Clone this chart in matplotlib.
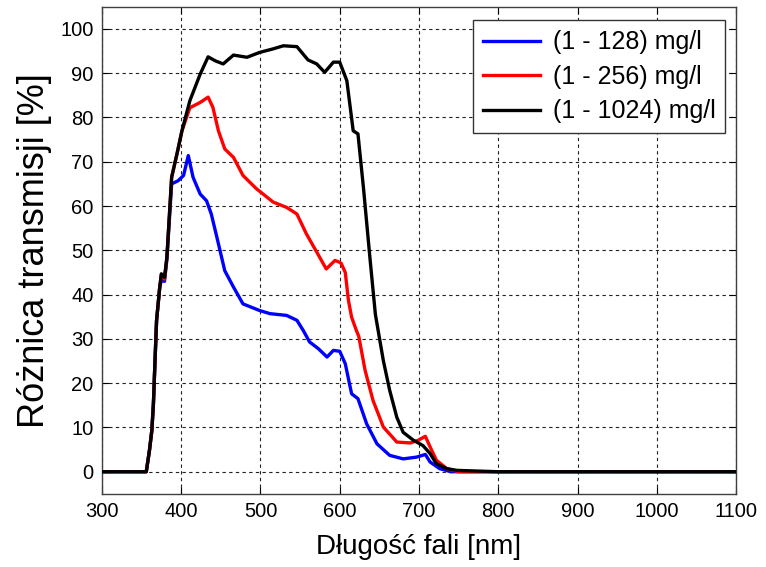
import matplotlib
matplotlib.use("Agg")
import matplotlib.pyplot as plt

# -------------------------------------------------------------------
# Data
# -------------------------------------------------------------------
wl_128 = [300, 356, 360, 363, 365, 367, 369, 373, 375, 379, 382, 388, 396,
          403, 409, 415, 424, 432, 438, 445, 455, 466, 478, 499, 512, 533,
          546, 554, 562, 573, 584, 592, 600, 607, 615, 623, 634, 647, 663,
          680, 697, 708, 714, 726, 740, 1100]
tr_128 = [0, 0, 4.8, 9.3, 15.3, 25, 34.2, 41.7, 43.2, 43, 48, 65, 65.7,
          66.9, 71.4, 66.5, 62.7, 61.2, 58.2, 53, 45.4, 41.7, 37.9, 36.4, 35.7, 35.3,
          34.2, 31.9, 29.3, 27.8, 25.9, 27.4, 27.2, 24.4, 17.6, 16.5, 10.8, 6.3, 3.7,
          2.9, 3.3, 3.9, 2.2, 0.7, 0, 0]

wl_256 = [300, 356, 360, 363, 365, 367, 369, 373, 375, 379, 382, 388, 395,
          401, 411, 424, 434, 440, 447, 455, 466, 478, 495, 516, 533, 546,
          558, 571, 583, 594, 600, 602, 607, 611, 615, 621, 624, 632, 642,
          655, 672, 689, 699, 708, 714, 722, 735, 750, 1100]
tr_256 = [0, 0, 4.8, 9.3, 15.3, 25, 34.2, 41.7, 44.5, 43.5, 48.4, 66.5, 72,
          77, 82.2, 83.4, 84.6, 82.3, 77, 72.9, 71, 66.9, 63.9, 60.9, 59.7, 58.2,
          53.7, 49.6, 45.8, 47.7, 47.3, 47, 45, 38.7, 34.9, 31.9, 30.6, 22.9, 16.1,
          10.1, 6.7, 6.5, 7.1, 8.0, 5.6, 2.6, 0.7, 0, 0]

wl_1024 = [300, 356, 360, 363, 365, 367, 369, 373, 375, 379, 382, 388, 395,
           401, 411, 424, 434, 443, 453, 466, 483, 499, 516, 529, 546, 560,
           571, 581, 592, 600, 609, 617, 623, 630, 638, 645, 655, 663, 672,
           680, 693, 705, 714, 722, 735, 748, 800, 1100]
tr_1024 = [0, 0, 4.8, 9.3, 15.3, 25, 34.2, 41.7, 44.7, 43.9, 48.4, 66.5, 72,
           77, 83.8, 89.8, 93.7, 92.8, 92.1, 94.1, 93.6, 94.7, 95.5, 96.2, 96, 93,
           92.1, 90.2, 92.5, 92.5, 88.3, 77, 76.3, 64, 48.5, 35.5, 25.1, 18.4, 12.3,
           8.9, 7.1, 5.9, 4.1, 1.8, 0.7, 0.3, 0, 0]

labels = ["(1 - 128) mg/l", "(1 - 256) mg/l", "(1 - 1024) mg/l"]
colors = ["#0000ff", "#ff0000", "#000000"]

x_ticks = list(range(300, 1101, 100))
y_ticks = list(range(0, 101, 10))

# -------------------------------------------------------------------
# Plot
# -------------------------------------------------------------------
plt.rcParams["font.family"] = ["Liberation Sans", "DejaVu Sans"]

fig = plt.figure(figsize=(7.66, 5.67), dpi=100)
ax = fig.add_axes([0.133, 0.129, 0.828, 0.859])

series = [(wl_128, tr_128), (wl_256, tr_256), (wl_1024, tr_1024)]
for (x, y), lab, col in zip(series, labels, colors):
    ax.plot(x, y, color=col, lw=2.4, label=lab, zorder=3)

ax.set_xlim(300, 1100)
ax.set_ylim(-5, 105)
ax.set_xticks(x_ticks)
ax.set_yticks(y_ticks)
ax.tick_params(direction="in", length=5, width=0.8, top=True, right=True,
               labelsize=14.5, pad=6)
for sp in ax.spines.values():
    sp.set_color("#404040")
    sp.set_linewidth(1.0)

ax.grid(True, color="#222222", linestyle=(0, (3, 3)), linewidth=0.8, zorder=0)

ax.set_xlabel("Długość fali [nm]", fontsize=20, labelpad=9)
ax.set_ylabel("Różnica transmisji [%]", fontsize=26, labelpad=6)

leg = ax.legend(loc="upper right", bbox_to_anchor=(0.983, 0.972),
                fontsize=18, handlelength=2.3, handletextpad=0.5,
                borderpad=0.4, labelspacing=0.42, borderaxespad=0.0,
                fancybox=False, framealpha=1.0, edgecolor="#333333")
leg.get_frame().set_linewidth(1.0)

fig.savefig("out.png", dpi=100)
